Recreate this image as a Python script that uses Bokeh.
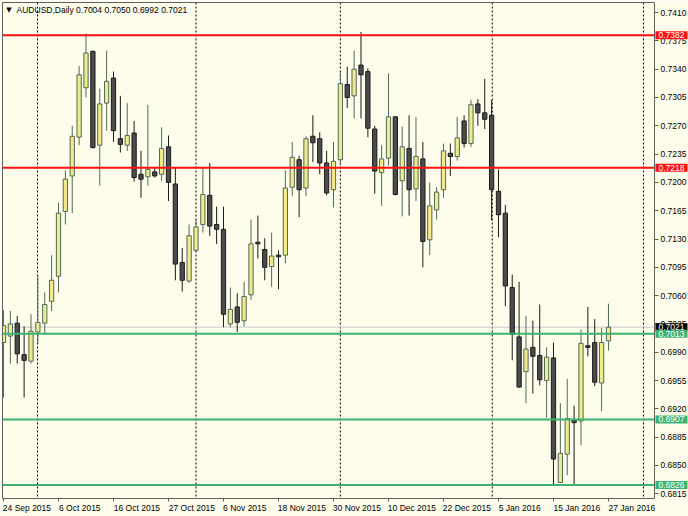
from bokeh.plotting import figure
from bokeh.models import (Range1d, FixedTicker, Span, Label, ColumnDataSource,
                          NumeralTickFormatter, LinearAxis)
from bokeh.embed import file_html
from bokeh.resources import INLINE

# ---- data ----
opens = [0.7002, 0.7010, 0.7026, 0.6987, 0.6979, 0.7015, 0.7026, 0.7053, 0.7084, 0.7164,
         0.7208, 0.7256, 0.7317, 0.7362, 0.7246, 0.7298, 0.7329, 0.7254, 0.7246, 0.7261,
         0.7210, 0.7207, 0.7213, 0.7210, 0.7244, 0.7198, 0.7101, 0.7078, 0.7116, 0.7148,
         0.7184, 0.7148, 0.7142, 0.7025, 0.7046, 0.7029, 0.7061, 0.7126, 0.7117, 0.7096,
         0.7110, 0.7110, 0.7194, 0.7228, 0.7193, 0.7257, 0.7254, 0.7224, 0.7191, 0.7228,
         0.7321, 0.7307, 0.7345, 0.7337, 0.7266, 0.7212, 0.7230, 0.7281, 0.7202, 0.7242,
         0.7192, 0.7229, 0.7129, 0.7166, 0.7191, 0.7236, 0.7232, 0.7276, 0.7248, 0.7297,
         0.7286, 0.7283, 0.7189, 0.7162, 0.7070, 0.7009, 0.6966, 0.6996, 0.6986, 0.6955,
         0.6983, 0.6829, 0.6864, 0.6906, 0.6905, 0.6998, 0.7002, 0.6952, 0.7004]
highs = [0.7042, 0.7041, 0.7035, 0.7022, 0.7037, 0.7085, 0.7064, 0.7110, 0.7175, 0.7215,
         0.7270, 0.7344, 0.7384, 0.7363, 0.7316, 0.7363, 0.7337, 0.7307, 0.7298, 0.7276,
         0.7239, 0.7296, 0.7219, 0.7268, 0.7258, 0.7218, 0.7119, 0.7148, 0.7154, 0.7219,
         0.7224, 0.7170, 0.7170, 0.7070, 0.7063, 0.7077, 0.7154, 0.7159, 0.7131, 0.7138,
         0.7116, 0.7215, 0.7250, 0.7233, 0.7257, 0.7283, 0.7262, 0.7239, 0.7250, 0.7336,
         0.7343, 0.7363, 0.7386, 0.7341, 0.7270, 0.7246, 0.7335, 0.7282, 0.7269, 0.7283,
         0.7281, 0.7250, 0.7200, 0.7194, 0.7248, 0.7248, 0.7281, 0.7283, 0.7302, 0.7303,
         0.7328, 0.7302, 0.7216, 0.7172, 0.7086, 0.7077, 0.7035, 0.7029, 0.7049, 0.6996,
         0.7002, 0.6927, 0.6957, 0.6924, 0.7018, 0.7046, 0.7031, 0.7020, 0.7050]
lows = [0.6934, 0.6976, 0.6976, 0.6934, 0.6976, 0.7001, 0.7013, 0.7041, 0.7064, 0.7148,
        0.7162, 0.7246, 0.7305, 0.7242, 0.7196, 0.7264, 0.7250, 0.7237, 0.7239, 0.7201,
        0.7181, 0.7196, 0.7206, 0.7202, 0.7177, 0.7079, 0.7065, 0.7076, 0.7114, 0.7138,
        0.7134, 0.7124, 0.7021, 0.7021, 0.7015, 0.7022, 0.7055, 0.7106, 0.7079, 0.7071,
        0.7068, 0.7100, 0.7183, 0.7157, 0.7183, 0.7225, 0.7210, 0.7184, 0.7169, 0.7221,
        0.7292, 0.7279, 0.7279, 0.7256, 0.7186, 0.7171, 0.7221, 0.7184, 0.7158, 0.7159,
        0.7177, 0.7095, 0.7110, 0.7154, 0.7181, 0.7208, 0.7227, 0.7243, 0.7244, 0.7270,
        0.7266, 0.7153, 0.7132, 0.7047, 0.6980, 0.6946, 0.6927, 0.6939, 0.6949, 0.6909,
        0.6825, 0.6829, 0.6838, 0.6827, 0.6875, 0.6985, 0.6948, 0.6917, 0.6992]
closes = [0.7023, 0.7025, 0.6988, 0.6980, 0.7016, 0.7027, 0.7049, 0.7079, 0.7162, 0.7204,
          0.7257, 0.7333, 0.7360, 0.7243, 0.7297, 0.7325, 0.7264, 0.7247, 0.7258, 0.7206,
          0.7204, 0.7216, 0.7208, 0.7242, 0.7200, 0.7099, 0.7079, 0.7134, 0.7145, 0.7185,
          0.7146, 0.7142, 0.7037, 0.7043, 0.7027, 0.7059, 0.7124, 0.7124, 0.7095, 0.7109,
          0.7108, 0.7193, 0.7231, 0.7191, 0.7254, 0.7249, 0.7224, 0.7187, 0.7226, 0.7322,
          0.7305, 0.7340, 0.7333, 0.7267, 0.7214, 0.7229, 0.7281, 0.7185, 0.7244, 0.7191,
          0.7232, 0.7127, 0.7171, 0.7188, 0.7239, 0.7232, 0.7255, 0.7248, 0.7296, 0.7286,
          0.7278, 0.7191, 0.7160, 0.7072, 0.7012, 0.6947, 0.6994, 0.6985, 0.6956, 0.6984,
          0.6858, 0.6865, 0.6908, 0.6903, 0.7001, 0.6996, 0.6953, 0.7002, 0.7021]

date_tick_idx = [0, 8, 16, 24, 32, 40, 48, 56, 64, 72, 80, 88]
date_tick_labels = ["24 Sep 2015", "6 Oct 2015", "16 Oct 2015", "27 Oct 2015", "6 Nov 2015",
                    "18 Nov 2015", "30 Nov 2015", "10 Dec 2015", "22 Dec 2015", "5 Jan 2016",
                    "15 Jan 2016", "27 Jan 2016"]
price_ticks = [0.7410, 0.7375, 0.7340, 0.7305, 0.7270, 0.7235, 0.7200, 0.7165, 0.7130,
               0.7095, 0.7060, 0.7025, 0.6990, 0.6955, 0.6920, 0.6885, 0.6850, 0.6815]
red_levels = [0.7382, 0.7218]
green_levels = [0.7013, 0.6907, 0.6826]
bid_level = 0.7021
separator_idx = [4.95, 28, 49, 71.1, 93.1]
symbol = "AUDUSD,Daily"

# ---- styling / layout ----
BG = "#FEFCEA"
FONT = "Liberation Sans"
FS = "8.5px"
X0 = -0.145          # left edge of the chart area (bar units)
AXIS_X = 94.69       # where the price scale sits (bar units)
XEND = 99.64         # right edge of the figure (bar units)
Y0, Y1 = 0.68092, 0.74224
BORDER = "#606060"
BULL_FILL, BULL_LINE = "#F2E98A", "#4F6A5C"
BEAR_FILL, BEAR_LINE = "#4C4C4C", "#1A1A1A"

p = figure(width=688, height=516, x_range=Range1d(X0, XEND), y_range=Range1d(Y0, Y1),
           output_backend="svg", toolbar_location=None,
           x_axis_location=None, y_axis_location=None,
           min_border_left=2, min_border_top=2, min_border_right=0, min_border_bottom=18)
p.background_fill_color = BG
p.border_fill_color = BG
p.outline_line_color = None
p.grid.visible = False

# border lines (left / top) as tickless axes
left_ax = LinearAxis(ticker=FixedTicker(ticks=[]), major_tick_out=0, major_tick_in=0,
                     minor_tick_out=0, minor_tick_in=0, major_label_standoff=0,
                     axis_line_color=BORDER)
p.add_layout(left_ax, "left")
top_ax = LinearAxis(ticker=FixedTicker(ticks=[]), major_tick_out=0, major_tick_in=0,
                    minor_tick_out=0, minor_tick_in=0, major_label_standoff=0,
                    axis_line_color=BORDER, bounds=(X0, AXIS_X))
p.add_layout(top_ax, "above")

# month separators (behind candles)
for sx in separator_idx:
    p.add_layout(Span(location=sx, dimension="height", line_color="black",
                      line_width=1, line_dash="2 2", level="underlay"))

# bid line (behind candles)
p.segment(x0=[X0], x1=[AXIS_X], y0=[bid_level], y1=[bid_level], line_color="#C8C8C8", line_width=1)

# candles
xs = list(range(len(opens)))
bull = dict(x=[], o=[], h=[], l=[], c=[], top=[], bot=[])
bear = dict(x=[], o=[], h=[], l=[], c=[], top=[], bot=[])
for i in xs:
    d = bull if closes[i] >= opens[i] else bear
    d["x"].append(i); d["o"].append(opens[i]); d["h"].append(highs[i])
    d["l"].append(lows[i]); d["c"].append(closes[i])
    d["top"].append(max(opens[i], closes[i])); d["bot"].append(min(opens[i], closes[i]))
sb = ColumnDataSource(bull)
sr = ColumnDataSource(bear)
p.segment(x0="x", y0="h", x1="x", y1="l", source=sb, line_color=BULL_LINE, line_width=1)
p.segment(x0="x", y0="h", x1="x", y1="l", source=sr, line_color=BEAR_LINE, line_width=1)
p.vbar(x="x", top="top", bottom="bot", width=0.62, source=sb,
       fill_color=BULL_FILL, line_color=BULL_LINE, line_width=1)
p.vbar(x="x", top="top", bottom="bot", width=0.62, source=sr,
       fill_color=BEAR_FILL, line_color=BEAR_LINE, line_width=1)

# horizontal levels (in front of candles)
p.segment(x0=[X0] * len(red_levels), x1=[AXIS_X] * len(red_levels),
          y0=red_levels, y1=red_levels, line_color="#FF1010", line_width=2)
p.segment(x0=[X0] * len(green_levels), x1=[AXIS_X] * len(green_levels),
          y0=green_levels, y1=green_levels, line_color="#3CB371", line_width=2)

# bottom axis: labels left-aligned to their date (shifted by half label width),
# small tick marks at the real dates as minor ticks
label_pos = [t + 0.31 * len(s) for t, s in zip(date_tick_idx, date_tick_labels)]
xa = LinearAxis(ticker=FixedTicker(ticks=label_pos, minor_ticks=date_tick_idx),
                major_label_overrides={t: s for t, s in zip(label_pos, date_tick_labels)},
                bounds=(X0, AXIS_X))
xa.major_tick_line_color = None
xa.major_tick_in = 0
xa.major_tick_out = 0
xa.minor_tick_in = 0
xa.minor_tick_out = 3
xa.minor_tick_line_color = BORDER
xa.major_label_standoff = 1
xa.axis_line_color = BORDER
xa.major_label_text_font = FONT
xa.major_label_text_font_size = FS
xa.major_label_text_color = "black"
p.add_layout(xa, "below")

# price scale, drawn at the right end of the chart area
ya = LinearAxis(ticker=FixedTicker(ticks=price_ticks),
                formatter=NumeralTickFormatter(format="0.0000"),
                fixed_location=AXIS_X)
ya.major_label_text_font = FONT
ya.major_label_text_font_size = FS
ya.major_label_text_color = "black"
ya.major_tick_in = 0
ya.major_tick_out = 4
ya.minor_tick_in = 0
ya.minor_tick_out = 0
ya.major_label_standoff = 2
ya.axis_line_color = BORDER
ya.major_tick_line_color = BORDER
p.add_layout(ya, "right")

# price tags on the scale
def tag(level, bg):
    p.add_layout(Label(x=AXIS_X, y=level, text=f"{level:.4f}", x_offset=1,
                       text_align="left", text_baseline="middle",
                       text_font=FONT, text_font_size=FS, text_color="white",
                       background_fill_color=bg, padding=(3, 1)))

tag(bid_level, "#000000")
for lv in red_levels:
    tag(lv, "#FF1010")
for lv in green_levels:
    tag(lv, "#3CB371")

# header
last = len(opens) - 1
p.add_layout(Label(x=0.8, y=0.74137, text="\u25BC", text_font="DejaVu Sans",
                   text_font_size="7px", text_color="black", text_align="center",
                   text_baseline="middle"))
p.add_layout(Label(x=1.9, y=0.74137,
                   text=f"{symbol}  {opens[last]:.4f} {highs[last]:.4f} {lows[last]:.4f} {closes[last]:.4f}",
                   text_font=FONT, text_font_size=FS, text_color="black", text_baseline="middle"))

open("out.html", "w").write(file_html(p, INLINE))
